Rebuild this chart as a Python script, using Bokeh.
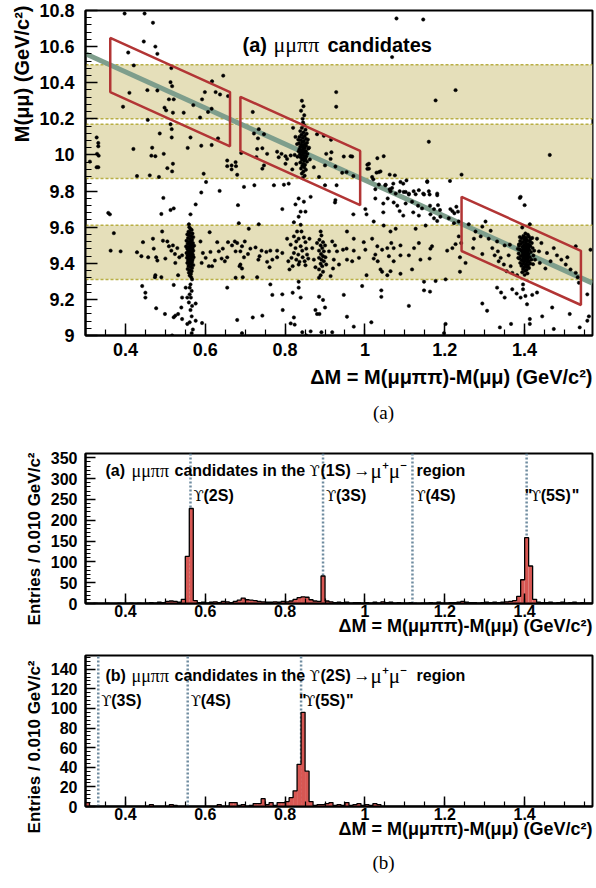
import math
from bokeh.plotting import figure
from bokeh.models import (Range1d, FixedTicker, CustomJSTickFormatter, Label,
                          BoxAnnotation, Span, Title)
from bokeh.layouts import column
from bokeh.embed import file_html
from bokeh.resources import INLINE

SANS = "Liberation Sans"
SERIF = "Liberation Serif"
UPS_FONT = "DejaVu Serif"

# ------------------------------------------------------------------ data
dm_lo, dm_hi = 0.30, 1.57          # Delta M axis range
mass_lo, mass_hi = 9.0, 10.8       # M(mumu) axis range

band_lows = [9.31, 9.87, 10.20]
band_highs = [9.61, 10.17, 10.50]
diag_x = [0.30, 1.57]
diag_y = [10.56, 9.29]
box_left = [0.362, 0.688, 1.242]
box_right = [0.662, 0.988, 1.541]
box_sum_lo, box_sum_hi = 10.71, 11.01

ev_upper_left = [
    (0.398,10.783),(0.448,10.783),(0.469,10.732),(0.407,10.567),(0.446,10.628),(0.475,10.600),
    (0.480,10.560),(0.421,10.496),(0.515,10.481),(0.410,10.344),(0.394,10.267),
    (0.455,10.359),(0.480,10.357),(0.513,10.403),(0.517,10.381),(0.509,10.308),(0.521,10.308),
    (0.498,10.262),(0.502,10.247),(0.519,10.234),(0.570,10.276),(0.546,10.234),(0.592,10.308),
    (0.587,10.207),(0.607,10.238),(0.616,10.256),(0.599,10.348),(0.626,10.348),(0.645,10.439),
    (0.617,10.408),(0.637,10.335),(0.657,10.326),
    (0.456,10.194),(0.513,10.170),(0.516,10.143),(0.516,10.097),(0.486,10.119),(0.563,10.097),
    (0.590,10.051),(0.616,10.055),(0.632,10.092),(0.556,10.039),(0.467,10.040),(0.465,9.996),
    (0.475,9.993),(0.496,10.006),(0.420,10.033),(0.519,9.951),(0.505,9.927),(0.517,9.909),
    (0.429,9.883),(0.461,9.887),(0.484,9.878),(0.495,9.762),(0.590,9.792),(0.602,9.850),
    (0.636,9.801),(0.655,9.969),(0.655,9.938),(0.666,9.942),(0.676,9.960),(0.677,9.938),
    (0.680,9.890),(0.666,9.920),(0.697,9.823),(0.723,9.832),(0.690,10.011),
    (0.328,10.097),(0.332,10.066),(0.332,10.048),(0.329,10.006),(0.333,9.996),(0.328,9.932),
    (0.332,9.932),(0.311,9.963),
    (0.719,10.238),(0.734,10.143),(0.722,10.119),(0.732,10.092),(0.747,10.115),(0.730,10.033),
    (0.743,10.037),(0.747,9.942),(0.743,9.924),(0.755,10.006),(0.780,10.018),(0.791,10.006),
    (0.801,9.993),(0.772,9.832),(0.797,9.835),(0.809,9.841),(0.784,9.987),(0.805,9.978),
    (0.801,9.951),(0.596,9.896),(0.728,9.988),(0.814,9.997),
]
ev_upper_right = [
    (1.079,10.756),(1.146,10.750),(1.068,10.542),(0.928,10.348),(0.928,10.267),(1.227,10.359),
    (1.177,10.302),(1.160,10.073),(1.213,9.856),
    (0.880,10.115),(0.897,10.106),(0.915,10.084),(0.903,10.006),(0.916,10.015),(0.914,9.978),
    (0.947,9.991),(0.968,9.991),(0.900,9.942),(0.926,9.936),(0.943,9.901),(0.954,9.905),
    (0.971,9.883),(0.872,9.932),(0.885,9.878),(0.929,9.832),(0.864,9.768),(0.900,9.832),
    (1.010,9.951),(1.006,9.923),(1.031,9.982),(1.035,9.905),(1.018,9.878),(1.071,9.841),
    (1.089,9.850),(1.052,9.835),(1.104,9.859),(1.156,9.850),(1.062,9.810),(1.097,9.795),
    (1.110,9.786),(1.127,9.782),(1.146,9.786),(1.162,9.781),(1.181,9.786),(1.388,9.762),
]
ev_diagonal = [
    (0.964,9.993),(1.047,9.993),(1.006,9.946),(1.010,9.924),(1.029,9.902),(1.039,9.909),
    (1.062,9.891),(1.075,9.887),(1.242,9.891),(1.463,10.000),
    (1.021,9.865),(1.026,9.810),(1.035,9.836),(1.051,9.832),(1.068,9.817),(1.064,9.799),
    (1.077,9.786),(1.087,9.799),(1.096,9.841),(1.102,9.795),(1.110,9.781),(1.122,9.799),
    (1.135,9.805),(1.148,9.781),(1.160,9.799),(1.181,9.777),(1.156,9.854),(1.026,9.759),
    (1.046,9.731),(1.057,9.759),(1.072,9.737),(1.081,9.719),(1.102,9.731),(1.118,9.741),
    (1.133,9.719),(1.143,9.704),(1.163,9.719),(1.173,9.700),(1.183,9.722),(1.188,9.695),
    (1.087,9.689),(1.096,9.664),(1.121,9.682),(1.135,9.664),(1.046,9.682),(1.001,9.700),
    (0.971,9.671),(1.004,9.671),(1.164,9.671),(1.173,9.649),(1.181,9.634),(1.189,9.658),
    (1.210,9.649),(1.214,9.700),(1.219,9.689),(1.229,9.713),(1.224,9.677),(1.233,9.686),
    (1.235,9.631),(1.223,9.622),(1.022,9.631),(1.047,9.609),(1.077,9.591),(1.127,9.591),
    (1.152,9.609),
]
ev_mid_left = [
    (0.576,9.726),(0.563,9.671),(0.521,9.704),(0.513,9.695),(0.490,9.673),(0.357,9.679),
    (0.361,9.671),(0.682,9.722),(0.793,9.700),(0.826,9.726),(0.839,9.686),(0.851,9.686),
    (0.834,9.658),(0.822,9.627),(0.839,9.613),(0.684,9.622),(0.734,9.616),(0.559,9.616),
    (0.926,9.750),(0.925,9.737),(0.834,9.759),(0.847,9.741),
]
ev_band_1s_left = [
    (0.371,9.567),(0.363,9.470),(0.388,9.466),(0.429,9.461),(0.444,9.517),(0.440,9.439),
    (0.457,9.433),(0.469,9.536),(0.471,9.481),(0.477,9.433),(0.480,9.415),(0.475,9.334),
    (0.474,9.323),(0.492,9.576),(0.494,9.525),(0.490,9.323),(0.500,9.426),(0.505,9.521),
    (0.509,9.494),(0.519,9.499),(0.515,9.470),(0.530,9.484),(0.524,9.451),(0.535,9.433),
    (0.525,9.402),(0.532,9.334),(0.542,9.444),(0.588,9.521),(0.594,9.457),(0.591,9.402),
    (0.601,9.430),(0.611,9.572),(0.613,9.463),(0.609,9.384),(0.617,9.384),(0.624,9.415),
    (0.630,9.517),(0.634,9.466),(0.644,9.481),(0.641,9.426),(0.649,9.411),(0.655,9.433),
    (0.657,9.517),(0.667,9.499),(0.676,9.466),(0.680,9.512),(0.688,9.466),(0.692,9.494),
    (0.699,9.521),(0.697,9.433),(0.707,9.451),(0.686,9.384),(0.688,9.393),(0.692,9.371),
    (0.709,9.591),(0.713,9.481),(0.726,9.488),(0.733,9.420),(0.736,9.439),(0.741,9.470),
    (0.753,9.463),(0.763,9.470),(0.755,9.408),(0.761,9.378),(0.768,9.420),(0.780,9.470),
    (0.780,9.433),(0.793,9.457),(0.805,9.536),(0.808,9.411),(0.811,9.366),(0.676,9.320),
    (0.694,9.323),(0.730,9.323),(0.674,9.521),
]
ev_band_1s_084 = [
    (0.822,9.549),(0.828,9.521),(0.834,9.536),(0.841,9.576),(0.847,9.543),(0.851,9.517),
    (0.826,9.484),(0.839,9.494),(0.843,9.470),(0.853,9.481),(0.822,9.457),(0.833,9.448),
    (0.844,9.433),(0.855,9.448),(0.828,9.420),(0.836,9.408),(0.849,9.411),(0.858,9.426),
    (0.834,9.393),(0.851,9.389),(0.861,9.536),(0.814,9.503),(0.816,9.430),(0.868,9.484),
    (0.872,9.420),(0.876,9.378),(0.830,9.576),(0.819,9.384),
]
ev_band_1s_3s = [
    (0.889,9.576),(0.891,9.554),(0.886,9.530),(0.895,9.517),(0.889,9.499),(0.893,9.484),
    (0.885,9.470),(0.897,9.466),(0.890,9.451),(0.895,9.439),(0.885,9.430),(0.891,9.420),
    (0.897,9.411),(0.889,9.397),(0.893,9.384),(0.885,9.366),(0.895,9.353),(0.889,9.334),
    (0.900,9.499),(0.880,9.512),(0.901,9.433),(0.903,9.393),(0.910,9.466),(0.918,9.521),
    (0.922,9.420),(0.930,9.466),(0.935,9.393),(0.925,9.499),(0.920,9.371),(0.914,9.329),
    (0.885,9.320),
]
ev_band_1s_right = [
    (0.955,9.576),(0.972,9.536),(0.997,9.517),(1.018,9.536),(1.064,9.576),(0.954,9.481),
    (0.972,9.470),(1.001,9.475),(1.031,9.494),(1.043,9.475),(1.026,9.448),(1.056,9.484),
    (1.066,9.512),(1.072,9.484),(1.089,9.499),(1.123,9.484),(1.135,9.512),(1.164,9.481),
    (1.168,9.494),(0.955,9.420),(0.968,9.411),(0.985,9.430),(1.022,9.426),(1.032,9.411),
    (1.060,9.439),(1.072,9.411),(1.089,9.444),(1.110,9.444),(1.139,9.420),(1.162,9.426),
    (1.039,9.366),(1.043,9.353),(1.064,9.356),(1.089,9.342),(1.118,9.366),(1.004,9.334),
    (1.056,9.334),(1.206,9.470),(1.219,9.484),(1.227,9.506),(1.235,9.549),(1.241,9.512),
    (1.238,9.433),(1.252,9.402),(1.238,9.353),(1.202,9.311),(1.177,9.302),(1.148,9.298),
    (0.945,9.475),
]
ev_box3 = [
    (1.260,9.616),(1.277,9.576),(1.294,9.603),(1.302,9.631),(1.315,9.580),(1.290,9.549),
    (1.310,9.536),(1.331,9.521),(1.273,9.536),(1.271,9.484),(1.319,9.484),(1.333,9.466),
    (1.350,9.499),(1.363,9.503),(1.360,9.444),(1.340,9.430),(1.335,9.411),(1.348,9.393),
    (1.365,9.384),(1.294,9.451),(1.325,9.444),(1.355,9.356),(1.369,9.347),(1.381,9.334),
    (1.390,9.768),(1.400,9.722),(1.413,9.616),(1.394,9.598),(1.431,9.536),(1.442,9.512),
    (1.436,9.466),(1.456,9.457),(1.473,9.484),(1.481,9.444),(1.492,9.420),(1.507,9.433),
    (1.528,9.494),(1.503,9.393),(1.515,9.366),(1.528,9.347),(1.533,9.323),(1.536,9.292),
    (1.565,9.475),(1.557,9.228),(1.561,9.106),(1.557,9.082),(1.406,9.384),(1.438,9.402),
    (1.452,9.371),(1.465,9.411),
]
ev_below = [
    (0.993,9.274),(0.947,9.225),(1.041,9.250),(1.041,9.214),(1.148,9.250),(1.163,9.243),
    (1.110,9.164),(0.955,9.104),(1.016,9.073),(0.972,9.049),(1.202,9.064),(1.198,9.013),
    (1.331,9.265),(1.341,9.238),(1.350,9.210),(1.369,9.256),(1.380,9.232),(1.390,9.210),
    (1.396,9.283),(1.402,9.219),(1.406,9.173),(1.419,9.225),(1.431,9.238),(1.413,9.091),
    (1.444,9.106),(1.469,9.155),(1.513,9.119),(1.294,9.177),(1.306,9.137),(1.366,9.064),
    (1.338,9.045),(1.413,9.064),(1.473,9.036),(1.538,9.045),(1.396,9.256),
    (0.563,9.283),(0.561,9.265),(0.566,9.247),(0.561,9.228),(0.564,9.210),(0.559,9.183),
    (0.567,9.164),(0.563,9.141),(0.566,9.106),(0.561,9.073),(0.569,9.033),(0.576,9.082),
    (0.555,9.210),(0.551,9.265),(0.542,9.210),(0.540,9.155),(0.532,9.119),(0.525,9.110),
    (0.521,9.101),(0.542,9.091),(0.555,9.064),(0.592,9.069),(0.576,9.177),(0.567,9.311),
    (0.566,9.013),(0.517,9.000),
    (0.442,9.274),(0.450,9.237),(0.450,9.210),(0.477,9.151),(0.499,9.119),(0.521,9.280),
    (0.655,9.265),(0.680,9.086),(0.692,9.013),(0.719,9.100),(0.743,9.110),(0.763,9.283),
    (0.768,9.225),(0.793,9.228),(0.794,9.141),(0.819,9.237),(0.822,9.100),(0.814,9.067),
    (0.824,9.060),(0.834,9.298),(0.834,9.265),(0.839,9.210),(0.843,9.018),(0.864,9.023),
    (0.885,9.215),(0.895,9.197),(0.900,9.155),(0.876,9.141),(0.880,9.119),(0.886,9.119),
    (0.891,9.018),(0.918,9.018),(0.853,9.000),
]
ev_peak_2s = [
    (0.560,9.600),(0.563,9.590),(0.566,9.585),(0.558,9.575),(0.562,9.570),(0.568,9.565),
    (0.555,9.560),(0.560,9.555),(0.565,9.550),(0.570,9.545),(0.557,9.540),(0.562,9.535),
    (0.567,9.530),(0.553,9.525),(0.559,9.520),(0.564,9.518),(0.569,9.512),(0.556,9.508),
    (0.561,9.504),(0.566,9.500),(0.572,9.497),(0.552,9.493),(0.558,9.490),(0.563,9.487),
    (0.568,9.483),(0.555,9.480),(0.560,9.476),(0.565,9.473),(0.570,9.470),(0.557,9.466),
    (0.562,9.463),(0.567,9.460),(0.553,9.457),(0.559,9.454),(0.564,9.450),(0.569,9.447),
    (0.556,9.443),(0.561,9.440),(0.566,9.437),(0.571,9.433),(0.554,9.430),(0.559,9.426),
    (0.564,9.423),(0.568,9.419),(0.557,9.415),(0.562,9.411),(0.567,9.407),(0.555,9.402),
    (0.560,9.398),(0.565,9.394),(0.570,9.390),(0.558,9.385),(0.563,9.380),(0.567,9.374),
    (0.556,9.368),(0.561,9.362),(0.566,9.356),(0.559,9.348),(0.564,9.340),(0.561,9.332),
    (0.565,9.322),
]
ev_peak_084 = [
    (0.845,10.180),(0.848,10.165),(0.842,10.150),(0.851,10.140),(0.838,10.132),(0.846,10.125),
    (0.854,10.118),(0.841,10.112),(0.849,10.106),(0.836,10.100),(0.844,10.095),(0.852,10.090),
    (0.857,10.085),(0.839,10.082),(0.847,10.077),(0.843,10.071),(0.855,10.068),(0.835,10.065),
    (0.850,10.061),(0.841,10.057),(0.846,10.053),(0.853,10.050),(0.838,10.046),(0.844,10.042),
    (0.849,10.038),(0.858,10.035),(0.836,10.032),(0.842,10.028),(0.847,10.024),(0.852,10.021),
    (0.840,10.017),(0.845,10.013),(0.850,10.010),(0.856,10.006),(0.837,10.003),(0.843,9.999),
    (0.848,9.995),(0.853,9.991),(0.839,9.987),(0.846,9.983),(0.851,9.978),(0.842,9.973),
    (0.848,9.968),(0.855,9.963),(0.838,9.958),(0.845,9.952),(0.850,9.946),(0.843,9.939),
    (0.848,9.932),(0.840,9.925),(0.852,9.918),(0.846,9.908),(0.842,9.897),(0.849,9.885),
    (0.844,9.872),(0.834,10.020),(0.860,10.040),(0.831,9.990),(0.862,9.975),(0.833,10.085),
    (0.842,10.300),(0.846,10.270),(0.840,10.245),(0.848,10.220),(0.844,10.200),
    (0.820,10.150),(0.826,10.100),(0.830,10.060),(0.824,10.000),(0.828,9.950),(0.818,9.920),
]
ev_peak_5s = [
    (1.402,9.565),(1.408,9.558),(1.397,9.552),(1.411,9.547),(1.404,9.542),(1.393,9.538),
    (1.415,9.535),(1.400,9.531),(1.407,9.527),(1.389,9.524),(1.413,9.521),(1.396,9.518),
    (1.403,9.515),(1.418,9.512),(1.391,9.509),(1.409,9.506),(1.399,9.503),(1.406,9.500),
    (1.386,9.497),(1.414,9.495),(1.394,9.492),(1.401,9.489),(1.410,9.486),(1.420,9.484),
    (1.397,9.481),(1.404,9.478),(1.388,9.476),(1.412,9.473),(1.392,9.470),(1.400,9.468),
    (1.407,9.465),(1.416,9.462),(1.395,9.459),(1.403,9.456),(1.385,9.454),(1.410,9.451),
    (1.398,9.448),(1.405,9.446),(1.422,9.443),(1.390,9.440),(1.401,9.437),(1.413,9.434),
    (1.396,9.431),(1.408,9.428),(1.387,9.426),(1.403,9.423),(1.417,9.420),(1.393,9.417),
    (1.400,9.414),(1.410,9.411),(1.398,9.408),(1.406,9.405),(1.389,9.402),(1.414,9.399),
    (1.395,9.396),(1.402,9.393),(1.409,9.390),(1.392,9.386),(1.404,9.382),(1.399,9.378),
    (1.411,9.374),(1.396,9.369),(1.405,9.364),(1.401,9.358),(1.394,9.350),(1.407,9.344),
    (1.400,9.336),(1.424,9.470),(1.383,9.480),(1.426,9.420),(1.384,9.430),(1.419,9.540),
    (1.388,9.545),(1.421,9.395),(1.386,9.505),(1.412,9.500),(1.398,9.495),(1.405,9.485),
    (1.395,9.445),(1.408,9.440),(1.401,9.425),(1.397,9.465),(1.406,9.455),(1.403,9.530),
    (1.399,9.545),(1.409,9.415),
]

# histograms: 0.010 GeV/c^2 bins starting at 0.30
hist_first_edge = 0.30
hist_bin_width = 0.01
counts_1s = [
    0, 0, 1, 0, 0, 1, 0, 0, 1, 0,       # 0.30-0.39
    0, 1, 0, 1, 0, 1, 2, 1, 3, 2,       # 0.40-0.49
    5, 6, 5, 3, 10, 113, 228, 7, 2, 3,  # 0.50-0.59
    1, 3, 4, 2, 5, 4, 2, 5, 8, 13,      # 0.60-0.69
    9, 8, 7, 5, 4, 3, 3, 4, 3, 5,       # 0.70-0.79
    4, 6, 10, 14, 16, 15, 9, 6, 5, 66,  # 0.80-0.89
    6, 4, 2, 3, 2, 3, 1, 2, 2, 1,       # 0.90-0.99
    2, 1, 3, 1, 4, 2, 3, 1, 2, 1,       # 1.00-1.09
    1, 2, 1, 0, 1, 1, 2, 1, 3, 1,       # 1.10-1.19
    1, 2, 2, 3, 5, 3, 2, 2, 1, 2,       # 1.20-1.29
    3, 2, 3, 2, 3, 4, 5, 7, 17, 57,     # 1.30-1.39
    158, 90, 10, 3, 2, 2, 3, 1, 2, 3,   # 1.40-1.49
    1, 2, 3, 1, 2, 1, 1,                # 1.50-1.56
]
counts_2s = [
    4, 0, 0, 0, 0, 0, 0, 0, 0, 0,       # 0.30-0.39
    0, 0, 0, 0, 0, 0, 2, 0, 0, 0,       # 0.40-0.49
    0, 2, 1, 0, 0, 0, 0, 0, 0, 0,       # 0.50-0.59
    0, 0, 0, 2, 0, 0, 4, 4, 1, 2,       # 0.60-0.69
    0, 1, 3, 3, 8, 2, 4, 1, 4, 4,       # 0.70-0.79
    5, 9, 16, 43, 96, 36, 5, 1, 2, 2,   # 0.80-0.89
    3, 4, 1, 2, 1, 4, 1, 2, 3, 1,       # 0.90-0.99
    2, 1, 3, 2, 0, 0, 0, 0, 0, 0,       # 1.00-1.09
    0, 0, 0, 0, 0, 0, 0, 0, 0, 0,       # 1.10-1.19
    0, 0, 0, 0, 0, 0, 0, 0, 0, 0,       # 1.20-1.29
    0, 0, 0, 0, 0, 0, 0, 0, 0, 0,       # 1.30-1.39
    0, 0, 0, 0, 0, 0, 0, 0, 0, 0,       # 1.40-1.49
    0, 0, 0, 0, 0, 0, 0,                # 1.50-1.56
]
hist_1s_max = 360
hist_2s_max = 154

lines_1s = [0.563, 0.895, 1.119, 1.405]
states_1s = ["2S", "3S", "4S", "5S"]
quoted_1s = [False, False, False, True]
lines_2s = [0.332, 0.556, 0.840]
states_2s = ["3S", "4S", "5S"]
quoted_2s = [False, False, True]

x_major = [0.4, 0.6, 0.8, 1.0, 1.2, 1.4]
mass_major = [9.0, 9.2, 9.4, 9.6, 9.8, 10.0, 10.2, 10.4, 10.6, 10.8]
h1_major = [0, 50, 100, 150, 200, 250, 300, 350]
h2_major = [0, 20, 40, 60, 80, 100, 120, 140]

XTITLE = "\u0394M = M(\u03bc\u03bc\u03c0\u03c0)-M(\u03bc\u03bc) (GeV/c\u00b2)"
UPS = "\u03d2"

# ------------------------------------------------------------------ style
BAND_FILL = "#e5dfba"
BAND_EDGE = "#b9af45"
DIAG = "#7e9e8c"
BOX_RED = "#b23535"
HIST_RED = "#d75753"
VLINE = "#6f8ca0"

W = 596
FMT = CustomJSTickFormatter(code="return String(Math.round(tick*1000)/1000);")


def make_fig(height, left, right, top, bottom, yr):
    p = figure(width=W, height=height, x_range=Range1d(dm_lo, dm_hi), y_range=Range1d(*yr),
               output_backend="svg", toolbar_location=None,
               min_border_left=left, min_border_right=right,
               min_border_top=top, min_border_bottom=bottom)
    p.xgrid.visible = False
    p.ygrid.visible = False
    p.outline_line_color = "black"
    p.outline_line_width = 2
    p.outline_line_alpha = 1
    p.background_fill_color = "white"
    p.border_fill_color = "white"
    return p


def style_axis(ax, ticks, minor, fs, tin, min_in, standoff):
    ax.ticker = FixedTicker(ticks=ticks, minor_ticks=minor)
    ax.formatter = FMT
    ax.major_tick_in = tin
    ax.major_tick_out = 0
    ax.minor_tick_in = min_in
    ax.minor_tick_out = 0
    ax.axis_line_width = 2
    ax.major_tick_line_width = 1.5
    ax.minor_tick_line_width = 1.2
    ax.major_label_text_font = SANS
    ax.major_label_text_font_style = "bold"
    ax.major_label_text_font_size = fs
    ax.major_label_text_color = "black"
    ax.major_label_standoff = standoff


def txt(p, text, x, y, fs, font=SANS, style="bold", align="left", baseline="alphabetic",
        x_units="screen", x_offset=0):
    p.add_layout(Label(x=x, y=y, x_units=x_units, y_units="screen", text=text,
                       text_font=font, text_font_style=style, text_font_size=fs,
                       text_align=align, text_baseline=baseline,
                       x_offset=x_offset, text_color="black"))


def title(p, text, side, fs, align, offset=0, standoff=10):
    p.add_layout(Title(text=text, align=align, offset=offset, standoff=standoff,
                       text_font=SANS, text_font_style="bold", text_font_size=fs,
                       text_color="black"), side)


def caption_fig(height, text, yc):
    c = figure(width=W, height=height, x_range=Range1d(0, 1), y_range=Range1d(0, 1),
               output_backend="svg", toolbar_location=None, min_border=0)
    c.axis.visible = False
    c.xgrid.visible = False
    c.ygrid.visible = False
    c.outline_line_color = None
    c.background_fill_color = "white"
    c.border_fill_color = "white"
    txt(c, text, 298, yc, "19px", font=SERIF, style="normal", align="center",
        baseline="middle")
    return c


x_minor = [round(0.30 + 0.05 * i, 2) for i in range(26)]

# ------------------------------------------------------------------ scatter
p1 = make_fig(396, 85, 4, 10, 61, (mass_lo, mass_hi))
style_axis(p1.xaxis[0], x_major, x_minor, "18px", 12, 6, 7)
style_axis(p1.yaxis[0], mass_major, [round(9.0 + 0.04 * i, 2) for i in range(46)],
           "18px", 12, 6, 11)

for lo, hi in zip(band_lows, band_highs):
    p1.add_layout(BoxAnnotation(bottom=lo, top=hi, fill_color=BAND_FILL, fill_alpha=1,
                                line_alpha=0, level="underlay"))
    for loc in (lo, hi):
        p1.add_layout(Span(location=loc, dimension="width", line_color=BAND_EDGE,
                           line_width=1.5, line_dash="3 2", level="underlay"))

p1.line(diag_x, diag_y, line_color=DIAG, line_width=5)

all_events = (ev_upper_left + ev_upper_right + ev_diagonal + ev_mid_left + ev_band_1s_left
              + ev_band_1s_084 + ev_band_1s_3s + ev_band_1s_right + ev_box3 + ev_below
              + ev_peak_2s + ev_peak_084 + ev_peak_5s)
p1.scatter([e[0] for e in all_events], [e[1] for e in all_events], size=3.4,
           fill_color="black", line_color="black", line_width=0.5)

bx, by = [], []
for a, b in zip(box_left, box_right):
    bx.append([a, a, b, b])
    by.append([box_sum_lo - a, box_sum_hi - a, box_sum_hi - b, box_sum_lo - b])
p1.patches(bx, by, fill_alpha=0, line_color=BOX_RED, line_width=2.5)

title(p1, XTITLE, "below", "20px", "right", standoff=10)
title(p1, "M(\u03bc\u03bc) (GeV/c\u00b2)", "left", "20px", "right", offset=-5, standoff=8)
txt(p1, "(a)", 157, 291, "20px")
txt(p1, "\u03bc\u03bc\u03c0\u03c0", 188, 291, "22px", font=SERIF, style="normal")
txt(p1, "candidates", 242, 291, "20px")

cap_a = caption_fig(36, "(a)", 20)


# ------------------------------------------------------------------ histograms
def hist_fig(height, top, bottom, counts, ymax, major, minor, lines, states, quoted,
             tag, parent, ytitle_offset, title_base):
    p = make_fig(height, 82, 3, top, bottom, (0, ymax))
    style_axis(p.xaxis[0], x_major, x_minor, "16px", 10, 5, 1)
    style_axis(p.yaxis[0], major, minor, "16px", 10, 5, 8)
    p.segment(x0=lines, y0=0, x1=lines, y1=ymax, line_color=VLINE, line_width=2.5,
              line_dash="2 2")
    edges = [round(hist_first_edge + hist_bin_width * i, 2) for i in range(len(counts) + 1)]
    p.quad(left=edges[:-1], right=edges[1:], bottom=0, top=counts, fill_color=HIST_RED,
           line_color=None)
    sx, sy = [edges[0]], [0]
    for i, c in enumerate(counts):
        sx += [edges[i], edges[i + 1]]
        sy += [c, c]
    sx.append(edges[-1])
    sy.append(0)
    p.line(sx, sy, line_color="black", line_width=1.3)
    ybase = title_base - 25
    for xl, st, q in zip(lines, states, quoted):
        o = -2 if q else 3
        if q:
            txt(p, "\"", xl, ybase, "16px", x_units="data", x_offset=o)
            o += 6
        txt(p, UPS, xl, ybase, "15px", font=UPS_FONT, style="normal", x_units="data",
            x_offset=o)
        txt(p, "(" + st + ")", xl, ybase, "16px", x_units="data", x_offset=o + 10)
        if q:
            txt(p, "\"", xl, ybase, "16px", x_units="data", x_offset=o + 41)
    txt(p, tag, 20, title_base, "16px")
    txt(p, "\u03bc\u03bc\u03c0\u03c0", 46, title_base, "18px", font=SERIF, style="normal")
    txt(p, "candidates in the", 89, title_base, "16px")
    txt(p, UPS, 224, title_base, "15px", font=UPS_FONT, style="normal")
    txt(p, "(" + parent + ")", 235, title_base, "16px")
    txt(p, "\u2192", 268, title_base, "17px", style="normal")
    txt(p, "\u03bc\u207a\u03bc\u207b", 285, title_base, "21px", font=SERIF, style="normal")
    txt(p, "region", 331, title_base, "16px")
    title(p, XTITLE, "below", "18px", "right", standoff=-11)
    title(p, "Entries / 0.010 GeV/c\u00b2", "left", "17px", "right", offset=ytitle_offset,
          standoff=8)
    return p


p2 = hist_fig(208, 21, 37, counts_1s, hist_1s_max, h1_major, list(range(0, 361, 10)),
              lines_1s, states_1s, quoted_1s, "(a)", "1S", -1, 133)
p3 = hist_fig(200, 15, 34, counts_2s, hist_2s_max, h2_major, list(range(0, 153, 4)),
              lines_2s, states_2s, quoted_2s, "(b)", "2S", 5, 131)
cap_b = caption_fig(48, "(b)", 26)

layout = column(p1, cap_a, p2, p3, cap_b, spacing=0)
open("out.html", "w").write(file_html(layout, INLINE))
